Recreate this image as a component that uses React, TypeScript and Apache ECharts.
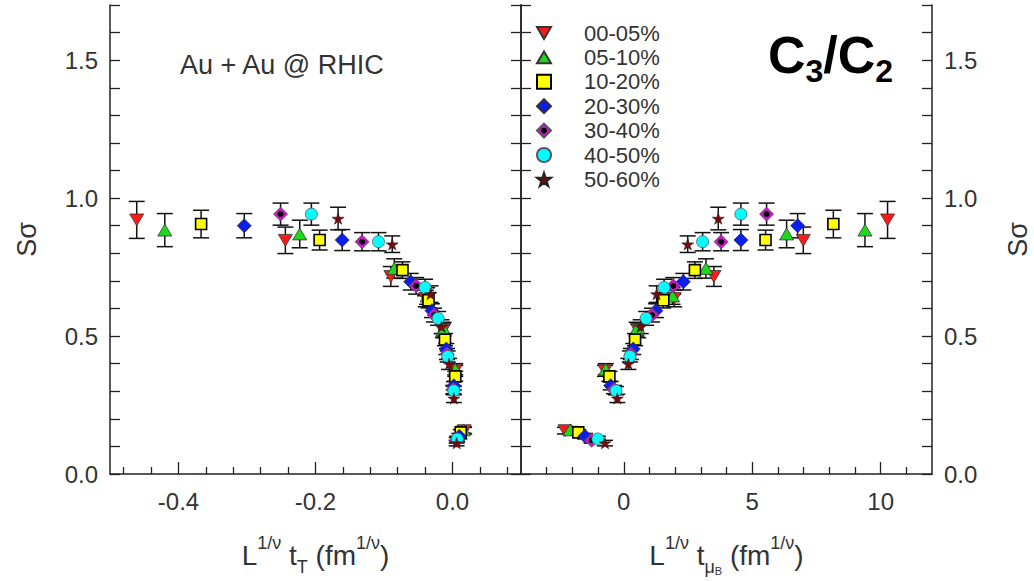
import React, { useEffect, useRef } from 'react';
import * as echarts from 'echarts';

// ---------- data ----------
const centralities = ['00-05%', '05-10%', '10-20%', '20-30%', '30-40%', '40-50%', '50-60%'];

// x of the left panel: L^{1/nu} t_T
const tTValues = [
  [-0.461, -0.244, -0.09, -0.039, -0.014, 0.004, 0.017],
  [-0.42, -0.223, -0.085, -0.037, -0.013, 0.004, 0.016],
  [-0.367, -0.194, -0.073, -0.035, -0.011, 0.004, 0.012],
  [-0.304, -0.161, -0.061, -0.03, -0.009, 0.002, 0.01],
  [-0.251, -0.132, -0.053, -0.027, -0.008, 0.001, 0.006],
  [-0.206, -0.108, -0.04, -0.021, -0.007, 0.002, 0.007],
  [-0.167, -0.088, -0.032, -0.016, -0.005, 0.002, 0.006],
];

// x of the right panel: L^{1/nu} t_muB
const tMuValues = [
  [10.27, 6.99, 3.51, 1.96, 0.56, -0.73, -2.29],
  [9.39, 6.34, 3.2, 1.9, 0.5, -0.7, -2.09],
  [8.16, 5.52, 2.77, 1.54, 0.44, -0.56, -1.77],
  [6.77, 4.56, 2.32, 1.25, 0.37, -0.51, -1.51],
  [5.56, 3.79, 1.93, 1.1, 0.28, -0.38, -1.25],
  [4.56, 3.07, 1.57, 0.87, 0.24, -0.3, -1.01],
  [3.68, 2.49, 1.28, 0.66, 0.18, -0.25, -0.73],
];

// S sigma (C3/C2)
const sSigmaValues = [
  [0.921, 0.847, 0.716, 0.636, 0.519, 0.374, 0.157],
  [0.884, 0.87, 0.745, 0.645, 0.525, 0.38, 0.16],
  [0.906, 0.848, 0.739, 0.63, 0.487, 0.354, 0.151],
  [0.9, 0.848, 0.697, 0.592, 0.453, 0.32, 0.137],
  [0.942, 0.842, 0.682, 0.576, 0.435, 0.306, 0.122],
  [0.942, 0.842, 0.676, 0.564, 0.426, 0.302, 0.127],
  [0.926, 0.833, 0.652, 0.534, 0.399, 0.274, 0.112],
];

const sSigmaErrors = [
  [0.067, 0.048, 0.036, 0.03, 0.025, 0.02, 0.012],
  [0.06, 0.05, 0.035, 0.03, 0.025, 0.02, 0.012],
  [0.05, 0.036, 0.03, 0.028, 0.022, 0.018, 0.01],
  [0.044, 0.038, 0.03, 0.025, 0.02, 0.015, 0.01],
  [0.04, 0.033, 0.03, 0.025, 0.02, 0.015, 0.01],
  [0.04, 0.033, 0.03, 0.025, 0.02, 0.015, 0.01],
  [0.041, 0.03, 0.03, 0.025, 0.02, 0.015, 0.01],
];

const yTickLabels = [0, 0.5, 1.0, 1.5];
const yTicks = [0, 0.1, 0.2, 0.3, 0.4, 0.5, 0.6, 0.7, 0.8, 0.9, 1.0, 1.1, 1.2, 1.3, 1.4, 1.5, 1.6, 1.7];
const tTMajor = [-0.4, -0.2, 0.0];
const tTMinor = [-0.48, -0.44, -0.36, -0.32, -0.28, -0.24, -0.16, -0.12, -0.08, -0.04, 0.04, 0.08];
const tMuMajor = [0, 5, 10];
const tMuMinor = [-3, -2, -1, 1, 2, 3, 4, 6, 7, 8, 9, 11];

// ---------- styles ----------
const FONT = '"Liberation Sans", Arial, sans-serif';
const TXT = '#333';

const starPath =
  'path://M50,0 L61,35 L98,35 L68,57 L79,91 L50,70 L21,91 L32,57 L2,35 L39,35 Z';

const markerStyles = [
  { symbol: 'path://M0,0 L20,0 L10,17 Z', size: 14, color: '#ff1a1a', border: '#333', bw: 0.8 },
  { symbol: 'path://M10,0 L20,17 L0,17 Z', size: 14, color: '#1ed81e', border: '#333', bw: 0.8 },
  { symbol: 'rect', size: 11, color: '#ffff00', border: '#000', bw: 1.6 },
  { symbol: 'diamond', size: 14, color: '#0a1eee', border: '#333', bw: 0.8 },
  {
    symbol: 'diamond',
    size: 14,
    color: new echarts.graphic.RadialGradient(0.5, 0.5, 0.5, [
      { offset: 0, color: '#000' },
      { offset: 0.38, color: '#000' },
      { offset: 0.46, color: '#cc11cc' },
      { offset: 1, color: '#cc11cc' },
    ]),
    border: '#555',
    bw: 0.8,
  },
  { symbol: 'circle', size: 12, color: '#00ffff', border: '#556', bw: 0.8 },
  { symbol: starPath, size: 12, color: '#7a0a0a', border: '#222', bw: 0.6 },
];

function errorSeries(
  name: string,
  xs: number[],
  ys: number[],
  es: number[],
  xAxisIndex: number,
  yAxisIndex: number
) {
  return {
    type: 'custom',
    name: name + ' error',
    xAxisIndex,
    yAxisIndex,
    silent: true,
    z: 1,
    encode: { x: 0, y: 1 },
    data: xs.map((x, i) => [x, ys[i], es[i]]),
    renderItem: (_params: any, api: any) => {
      const x = api.value(0);
      const y = api.value(1);
      const e = api.value(2);
      const top = api.coord([x, y + e]);
      const bot = api.coord([x, y - e]);
      const w = 8;
      const st = { stroke: '#111', lineWidth: 1.5 };
      return {
        type: 'group',
        children: [
          { type: 'line', shape: { x1: top[0], y1: top[1], x2: bot[0], y2: bot[1] }, style: st },
          { type: 'line', shape: { x1: top[0] - w, y1: top[1], x2: top[0] + w, y2: top[1] }, style: st },
          { type: 'line', shape: { x1: bot[0] - w, y1: bot[1], x2: bot[0] + w, y2: bot[1] }, style: st },
        ],
      };
    },
  };
}

function scatterSeries(k: number, xs: number[], xAxisIndex: number, yAxisIndex: number) {
  const m = markerStyles[k];
  return {
    type: 'scatter',
    name: centralities[k],
    xAxisIndex,
    yAxisIndex,
    z: 3,
    symbol: m.symbol,
    symbolSize: m.size,
    symbolKeepAspect: true,
    itemStyle: { color: m.color, borderColor: m.border, borderWidth: m.bw, opacity: 1 },
    data: xs.map((x, i) => [x, sSigmaValues[k][i]]),
  };
}

const axisNameRich = {
  m: { fontSize: 28, lineHeight: 42, verticalAlign: 'middle', fontFamily: FONT, color: TXT },
  p: { fontSize: 18, lineHeight: 18, verticalAlign: 'top', fontFamily: FONT, color: TXT },
  b: { fontSize: 18, lineHeight: 18, verticalAlign: 'bottom', fontFamily: FONT, color: TXT },
  bb: { fontSize: 11, lineHeight: 6, verticalAlign: 'bottom', fontFamily: FONT, color: TXT },
};

export default function App() {
  const ref = useRef<HTMLDivElement>(null);

  useEffect(() => {
    if (!ref.current) return;
    const chart = echarts.init(ref.current, undefined, { renderer: 'svg' });

    const yBase = (gridIndex: number, position: string, labels: boolean, name: boolean) => ({
      type: 'value',
      gridIndex,
      position,
      min: 0,
      max: 1.7,
      splitLine: { show: false },
      axisLine: { show: true, onZero: false, lineStyle: { color: '#222', width: 1.5 } },
      axisTick: {
        show: true,
        inside: true,
        length: 10,
        customValues: yTicks,
        lineStyle: { color: '#222', width: 1.3 },
      },
      axisLabel: {
        show: labels,
        inside: false,
        margin: 12,
        fontSize: 24,
        color: TXT,
        fontFamily: FONT,
        customValues: yTickLabels,
        formatter: (v: number) => v.toFixed(1),
      },
      name: name ? 'Sσ' : '',
      nameLocation: 'middle',
      nameRotate: 90,
      nameGap: position === 'left' ? 70 : 72,
      nameTextStyle: { fontSize: 27, color: TXT, fontFamily: FONT },
    });

    const xMajor = (
      gridIndex: number,
      min: number,
      max: number,
      ticks: number[],
      fmt: (v: number) => string,
      name: string
    ) => ({
      type: 'value',
      gridIndex,
      position: 'bottom',
      min,
      max,
      splitLine: { show: false },
      axisLine: { show: true, onZero: false, lineStyle: { color: '#222', width: 1.5 } },
      axisTick: { show: true, inside: true, length: 12, customValues: ticks, lineStyle: { color: '#222', width: 1.3 } },
      axisLabel: { margin: 15, fontSize: 24, color: TXT, fontFamily: FONT, customValues: ticks, formatter: fmt },
      name,
      nameLocation: 'middle',
      nameGap: 60,
      nameTextStyle: { rich: axisNameRich },
    });

    const xMinor = (gridIndex: number, min: number, max: number, ticks: number[]) => ({
      type: 'value',
      gridIndex,
      position: 'bottom',
      min,
      max,
      splitLine: { show: false },
      axisLine: { show: false, onZero: false },
      axisTick: { show: true, inside: true, length: 7, customValues: ticks, lineStyle: { color: '#222', width: 1.3 } },
      axisLabel: { show: false },
    });

    const series: any[] = [];
    centralities.forEach((c, k) => {
      series.push(errorSeries(c, tTValues[k], sSigmaValues[k], sSigmaErrors[k], 0, 0));
      series.push(errorSeries(c, tMuValues[k], sSigmaValues[k], sSigmaErrors[k], 2, 3));
    });
    centralities.forEach((_c, k) => {
      series.push(scatterSeries(k, tTValues[k], 0, 0));
      series.push(scatterSeries(k, tMuValues[k], 2, 3));
    });

    chart.setOption({
      animation: false,
      backgroundColor: '#fff',
      textStyle: { fontFamily: FONT },
      grid: [
        { left: 110, top: 5, width: 411, height: 470, show: false },
        { left: 521, top: 5, width: 411, height: 470, show: false },
      ],
      xAxis: [
        xMajor(0, -0.5, 0.1, tTMajor, (v: number) => v.toFixed(1),
          '{m|L}{p|1/ν}{m| t}{b|T}{m| (fm}{p|1/ν}{m|)}'),
        xMinor(0, -0.5, 0.1, tTMinor),
        xMajor(1, -4, 12, tMuMajor, (v: number) => String(Math.round(v)),
          '{m|L}{p|1/ν}{m| t}{b|μ}{bb|B}{m| (fm}{p|1/ν}{m|)}'),
        xMinor(1, -4, 12, tMuMinor),
      ],
      yAxis: [
        yBase(0, 'left', true, true),
        yBase(0, 'right', false, false),
        yBase(1, 'left', false, false),
        yBase(1, 'right', true, true),
      ],
      legend: {
        data: centralities,
        orient: 'vertical',
        left: 531,
        top: 16,
        itemWidth: 14,
        itemHeight: 14,
        itemGap: 0.4,
        symbolKeepAspect: true,
        textStyle: { fontSize: 22, color: TXT, fontFamily: FONT, lineHeight: 24, padding: [0, 0, 0, 28] },
        selectedMode: false,
      },
      graphic: [
        {
          type: 'text',
          x: 180,
          y: 65,
          style: {
            text: 'Au + Au @ RHIC',
            fontSize: 27,
            fontFamily: FONT,
            fill: TXT,
            verticalAlign: 'middle',
            align: 'left',
          },
        },
        {
          type: 'text',
          x: 768,
          y: 23,
          style: {
            text: '{c|C}{s|3}{c|/C}{s|2}',
            fill: '#000',
            rich: {
              c: { fontSize: 52, lineHeight: 64, verticalAlign: 'middle', fontWeight: 'bold', fontFamily: '"Liberation Sans Narrow", "Liberation Sans", Arial', fill: '#000' },
              s: { fontSize: 32, lineHeight: 32, verticalAlign: 'bottom', fontWeight: 'bold', fontFamily: '"Liberation Sans Narrow", "Liberation Sans", Arial', fill: '#000' },
            },
          },
        },
      ],
      series,
    });

    return () => chart.dispose();
  }, []);

  return (
    <div
      ref={ref}
      style={{ position: 'absolute', left: 0, top: 0, width: 1034, height: 581, background: '#fff' }}
    />
  );
}
